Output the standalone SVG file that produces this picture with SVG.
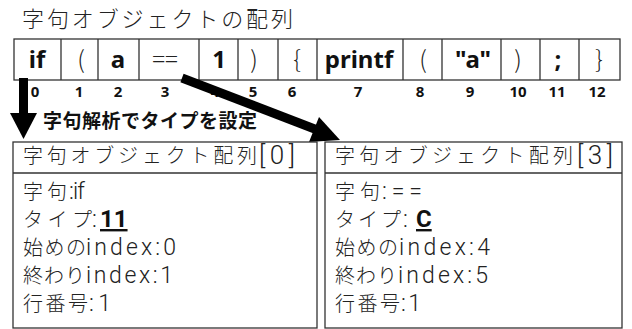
<svg xmlns="http://www.w3.org/2000/svg" width="632" height="329" viewBox="0 0 632 329">
<defs>
<style>
.jp{font-family:"Noto Sans CJK JP","Noto Sans",sans-serif;font-weight:300;fill:#222;font-size:20px}
.la{font-family:Roboto,"Noto Sans",sans-serif;font-size:23px;font-weight:300;fill:#222}
.bk{font-size:26px}
.title{font-size:22px}
.cell{fill:none;stroke:#333;stroke-width:1.3}
.tok{font-family:"Noto Sans","Noto Sans CJK JP",sans-serif;font-size:24px;font-weight:bold;fill:#111;text-anchor:middle}
.br{font-family:"Noto Sans CJK JP",sans-serif;font-size:24px;font-weight:300;fill:#222;text-anchor:middle}
.idx{font-family:"Noto Sans",sans-serif;font-size:15px;font-weight:bold;fill:#111;text-anchor:middle}
.lbl{font-family:"Noto Sans CJK JP",sans-serif;font-size:19px;font-weight:bold;fill:#111}
.box{fill:#fff;stroke:#333;stroke-width:1.3}
.em{font-family:Roboto,"Noto Sans",sans-serif;font-size:24px;font-weight:bold;text-decoration:underline;fill:#111}
</style>
</defs>
<rect width="632" height="329" fill="#fff"/>
<text id="title" class="jp title" x="22" y="27" textLength="271" lengthAdjust="spacing">字句オブジェクトの配列</text>

<g id="array">
<rect class="cell" x="14" y="39" width="606" height="41"/>
<path class="cell" d="M61 39V80M98 39V80M139 39V80M199 39V80M238 39V80M278 39V80M317 39V80M403 39V80M442 39V80M501 39V80M540 39V80M579 39V80"/>
<g id="t0"><text class="tok" x="37" y="68">if</text></g>
<g id="t1"><text class="br" x="81" y="68">(</text></g>
<g id="t2"><text class="tok" x="118" y="68">a</text></g>
<g id="t3"><text class="br" x="165" y="68">==</text></g>
<g id="t4"><text class="tok" x="219" y="68">1</text></g>
<g id="t5"><text class="br" x="254" y="68">)</text></g>
<g id="t6"><text class="br" x="297" y="68">{</text></g>
<g id="t7"><text class="tok" x="359" y="68">printf</text></g>
<g id="t8"><text class="br" x="423" y="68">(</text></g>
<g id="t9"><text class="tok" x="473" y="68">"a"</text></g>
<g id="t10"><text class="br" x="518" y="68">)</text></g>
<g id="t11"><text class="tok" x="558" y="68">;</text></g>
<g id="t12"><text class="br" x="599" y="68">}</text></g>
</g>

<g id="indices">
<text class="idx" x="35" y="97">0</text>
<text class="idx" x="79" y="97">1</text>
<text class="idx" x="118" y="97">2</text>
<text class="idx" x="165" y="97">3</text>
<text class="idx" x="215" y="97">4</text>
<text class="idx" x="253" y="97">5</text>
<text class="idx" x="292" y="97">6</text>
<text class="idx" x="358" y="97">7</text>
<text class="idx" x="420" y="97">8</text>
<text class="idx" x="470" y="97">9</text>
<text class="idx" x="518" y="97">10</text>
<text class="idx" x="557" y="97">11</text>
<text class="idx" x="597" y="97">12</text>
</g>

<g id="connectors">
<path d="M23.5 78V114" stroke="#000" stroke-width="9" fill="none"/>
<polygon points="10,113 37,113 23.5,139" fill="#000"/>
<path d="M182 78L316 129.5" stroke="#000" stroke-width="9" fill="none"/>
<polygon points="340,140 309,142 319,117" fill="#000"/>
</g>

<text id="label" class="lbl" x="43" y="128" textLength="214" lengthAdjust="spacing">字句解析でタイプを設定</text>

<g id="box0">
<rect class="box" x="13" y="142" width="304" height="186"/>
<line class="cell" x1="13" y1="173" x2="317" y2="173"/>
<text class="jp" x="23" y="163" textLength="234" lengthAdjust="spacing">字句オブジェクト配列</text>
<text class="la bk" x="259" y="164" textLength="36" lengthAdjust="spacing">[0]</text>
<text class="jp" x="23" y="199" textLength="44" lengthAdjust="spacing">字句</text>
<text class="la" x="69" y="199" textLength="16" lengthAdjust="spacing">:if</text>
<text class="jp" x="23" y="227" textLength="69" lengthAdjust="spacing">タイプ</text>
<text class="la" x="92" y="227">:</text>
<text class="em" x="100" y="227">11</text>
<text class="jp" x="23" y="255" textLength="63" lengthAdjust="spacing">始めの</text>
<text class="la" x="86" y="255" textLength="90" lengthAdjust="spacing">index:0</text>
<text class="jp" x="23" y="283" textLength="62" lengthAdjust="spacing">終わり</text>
<text class="la" x="86" y="283" textLength="87" lengthAdjust="spacing">index:1</text>
<text class="jp" x="23" y="311" textLength="65" lengthAdjust="spacing">行番号</text>
<text class="la" x="89" y="311" textLength="22" lengthAdjust="spacing">:1</text>
</g>

<g id="box3">
<rect class="box" x="325" y="142" width="297" height="186"/>
<line class="cell" x1="325" y1="173" x2="622" y2="173"/>
<text class="jp" x="335" y="163" textLength="238" lengthAdjust="spacing">字句オブジェクト配列</text>
<text class="la bk" x="577" y="164" textLength="36" lengthAdjust="spacing">[3]</text>
<text class="jp" x="335" y="199" textLength="45" lengthAdjust="spacing">字句</text>
<text class="la" x="382" y="199" textLength="40" lengthAdjust="spacing">:==</text>
<text class="jp" x="335" y="227" textLength="66" lengthAdjust="spacing">タイプ</text>
<text class="la" x="403" y="227">:</text>
<text class="em" x="416" y="227">C</text>
<text class="jp" x="335" y="255" textLength="63" lengthAdjust="spacing">始めの</text>
<text class="la" x="399" y="255" textLength="91" lengthAdjust="spacing">index:4</text>
<text class="jp" x="335" y="283" textLength="62" lengthAdjust="spacing">終わり</text>
<text class="la" x="398" y="283" textLength="90" lengthAdjust="spacing">index:5</text>
<text class="jp" x="335" y="311" textLength="65" lengthAdjust="spacing">行番号</text>
<text class="la" x="401" y="311" textLength="20" lengthAdjust="spacing">:1</text>
</g>
</svg>
